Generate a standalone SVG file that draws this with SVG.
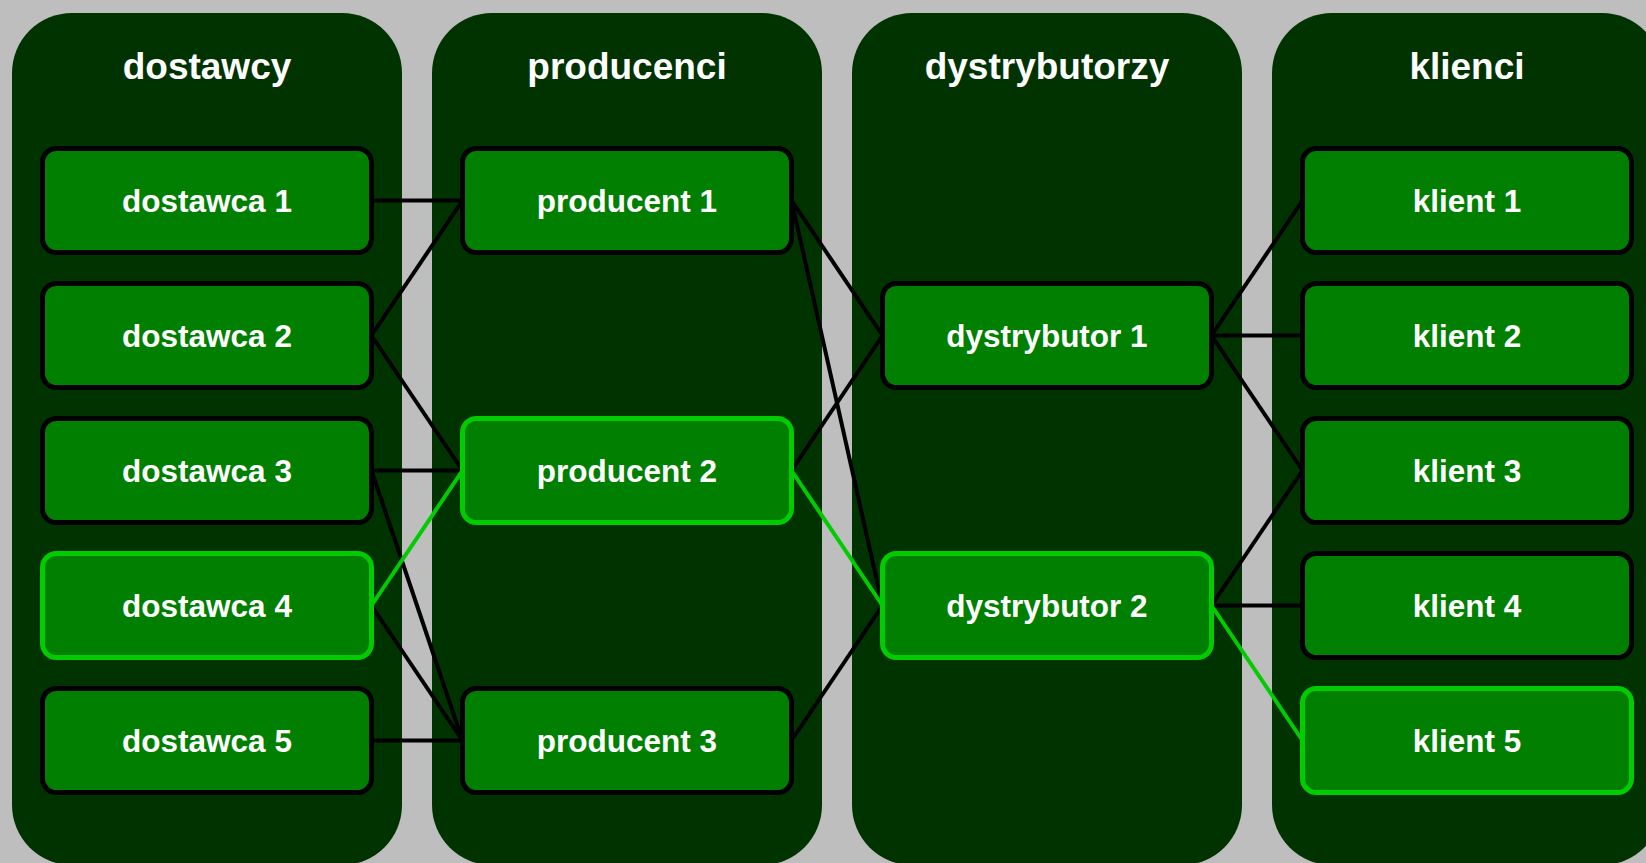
<svg xmlns="http://www.w3.org/2000/svg" width="1646" height="863" viewBox="0 0 1646 863">
<style>
.col{fill:#003300}
.hdr{font-family:"Liberation Sans",Arial,sans-serif;font-weight:bold;font-size:37px;fill:#ffffff;text-anchor:middle}
.box{fill:#007f00;stroke:#000000;stroke-width:5}
.box.hl{stroke:#00cc00}
.lbl{font-family:"Liberation Sans",Arial,sans-serif;font-weight:bold;font-size:31.5px;fill:#ffffff;text-anchor:middle}
.ln{stroke:#000000;stroke-width:4;fill:none}
.ln.hl{stroke:#00cc00}
</style>
<rect x="0" y="0" width="1646" height="863" fill="#bebebe"/>
<g id="columns">
<g id="col-dostawcy"><rect class="col" x="12" y="13" width="390" height="852" rx="60"/><text class="hdr" x="207" y="79">dostawcy</text></g>
<g id="col-producenci"><rect class="col" x="432" y="13" width="390" height="852" rx="60"/><text class="hdr" x="627" y="79">producenci</text></g>
<g id="col-dystrybutorzy"><rect class="col" x="852" y="13" width="390" height="852" rx="60"/><text class="hdr" x="1047" y="79">dystrybutorzy</text></g>
<g id="col-klienci"><rect class="col" x="1272" y="13" width="390" height="852" rx="60"/><text class="hdr" x="1467" y="79">klienci</text></g>
</g>
<g id="connectors">
<line class="ln" x1="371.5" y1="200.5" x2="462.5" y2="200.5"/>
<line class="ln" x1="371.5" y1="335.5" x2="462.5" y2="200.5"/>
<line class="ln" x1="371.5" y1="335.5" x2="462.5" y2="470.5"/>
<line class="ln" x1="371.5" y1="470.5" x2="462.5" y2="470.5"/>
<line class="ln" x1="371.5" y1="470.5" x2="462.5" y2="740.5"/>
<line class="ln" x1="371.5" y1="605.5" x2="462.5" y2="740.5"/>
<line class="ln" x1="371.5" y1="740.5" x2="462.5" y2="740.5"/>
<line class="ln hl" x1="371.5" y1="605.5" x2="462.5" y2="470.5"/>
<line class="ln" x1="791.5" y1="200.5" x2="882.5" y2="335.5"/>
<line class="ln" x1="791.5" y1="200.5" x2="882.5" y2="605.5"/>
<line class="ln" x1="791.5" y1="470.5" x2="882.5" y2="335.5"/>
<line class="ln" x1="791.5" y1="740.5" x2="882.5" y2="605.5"/>
<line class="ln hl" x1="791.5" y1="470.5" x2="882.5" y2="605.5"/>
<line class="ln" x1="1211.5" y1="335.5" x2="1302.5" y2="200.5"/>
<line class="ln" x1="1211.5" y1="335.5" x2="1302.5" y2="335.5"/>
<line class="ln" x1="1211.5" y1="335.5" x2="1302.5" y2="470.5"/>
<line class="ln" x1="1211.5" y1="605.5" x2="1302.5" y2="470.5"/>
<line class="ln" x1="1211.5" y1="605.5" x2="1302.5" y2="605.5"/>
<line class="ln hl" x1="1211.5" y1="605.5" x2="1302.5" y2="740.5"/>
</g>
<g id="dostawca1"><rect class="box" x="42.5" y="148.5" width="329" height="104" rx="14"/><text class="lbl" x="207" y="212">dostawca 1</text></g>
<g id="dostawca2"><rect class="box" x="42.5" y="283.5" width="329" height="104" rx="14"/><text class="lbl" x="207" y="347">dostawca 2</text></g>
<g id="dostawca3"><rect class="box" x="42.5" y="418.5" width="329" height="104" rx="14"/><text class="lbl" x="207" y="482">dostawca 3</text></g>
<g id="dostawca4"><rect class="box hl" x="42.5" y="553.5" width="329" height="104" rx="14"/><text class="lbl" x="207" y="617">dostawca 4</text></g>
<g id="dostawca5"><rect class="box" x="42.5" y="688.5" width="329" height="104" rx="14"/><text class="lbl" x="207" y="752">dostawca 5</text></g>
<g id="producent1"><rect class="box" x="462.5" y="148.5" width="329" height="104" rx="14"/><text class="lbl" x="627" y="212">producent 1</text></g>
<g id="producent2"><rect class="box hl" x="462.5" y="418.5" width="329" height="104" rx="14"/><text class="lbl" x="627" y="482">producent 2</text></g>
<g id="producent3"><rect class="box" x="462.5" y="688.5" width="329" height="104" rx="14"/><text class="lbl" x="627" y="752">producent 3</text></g>
<g id="dystrybutor1"><rect class="box" x="882.5" y="283.5" width="329" height="104" rx="14"/><text class="lbl" x="1047" y="347">dystrybutor 1</text></g>
<g id="dystrybutor2"><rect class="box hl" x="882.5" y="553.5" width="329" height="104" rx="14"/><text class="lbl" x="1047" y="617">dystrybutor 2</text></g>
<g id="klient1"><rect class="box" x="1302.5" y="148.5" width="329" height="104" rx="14"/><text class="lbl" x="1467" y="212">klient 1</text></g>
<g id="klient2"><rect class="box" x="1302.5" y="283.5" width="329" height="104" rx="14"/><text class="lbl" x="1467" y="347">klient 2</text></g>
<g id="klient3"><rect class="box" x="1302.5" y="418.5" width="329" height="104" rx="14"/><text class="lbl" x="1467" y="482">klient 3</text></g>
<g id="klient4"><rect class="box" x="1302.5" y="553.5" width="329" height="104" rx="14"/><text class="lbl" x="1467" y="617">klient 4</text></g>
<g id="klient5"><rect class="box hl" x="1302.5" y="688.5" width="329" height="104" rx="14"/><text class="lbl" x="1467" y="752">klient 5</text></g>
</svg>
